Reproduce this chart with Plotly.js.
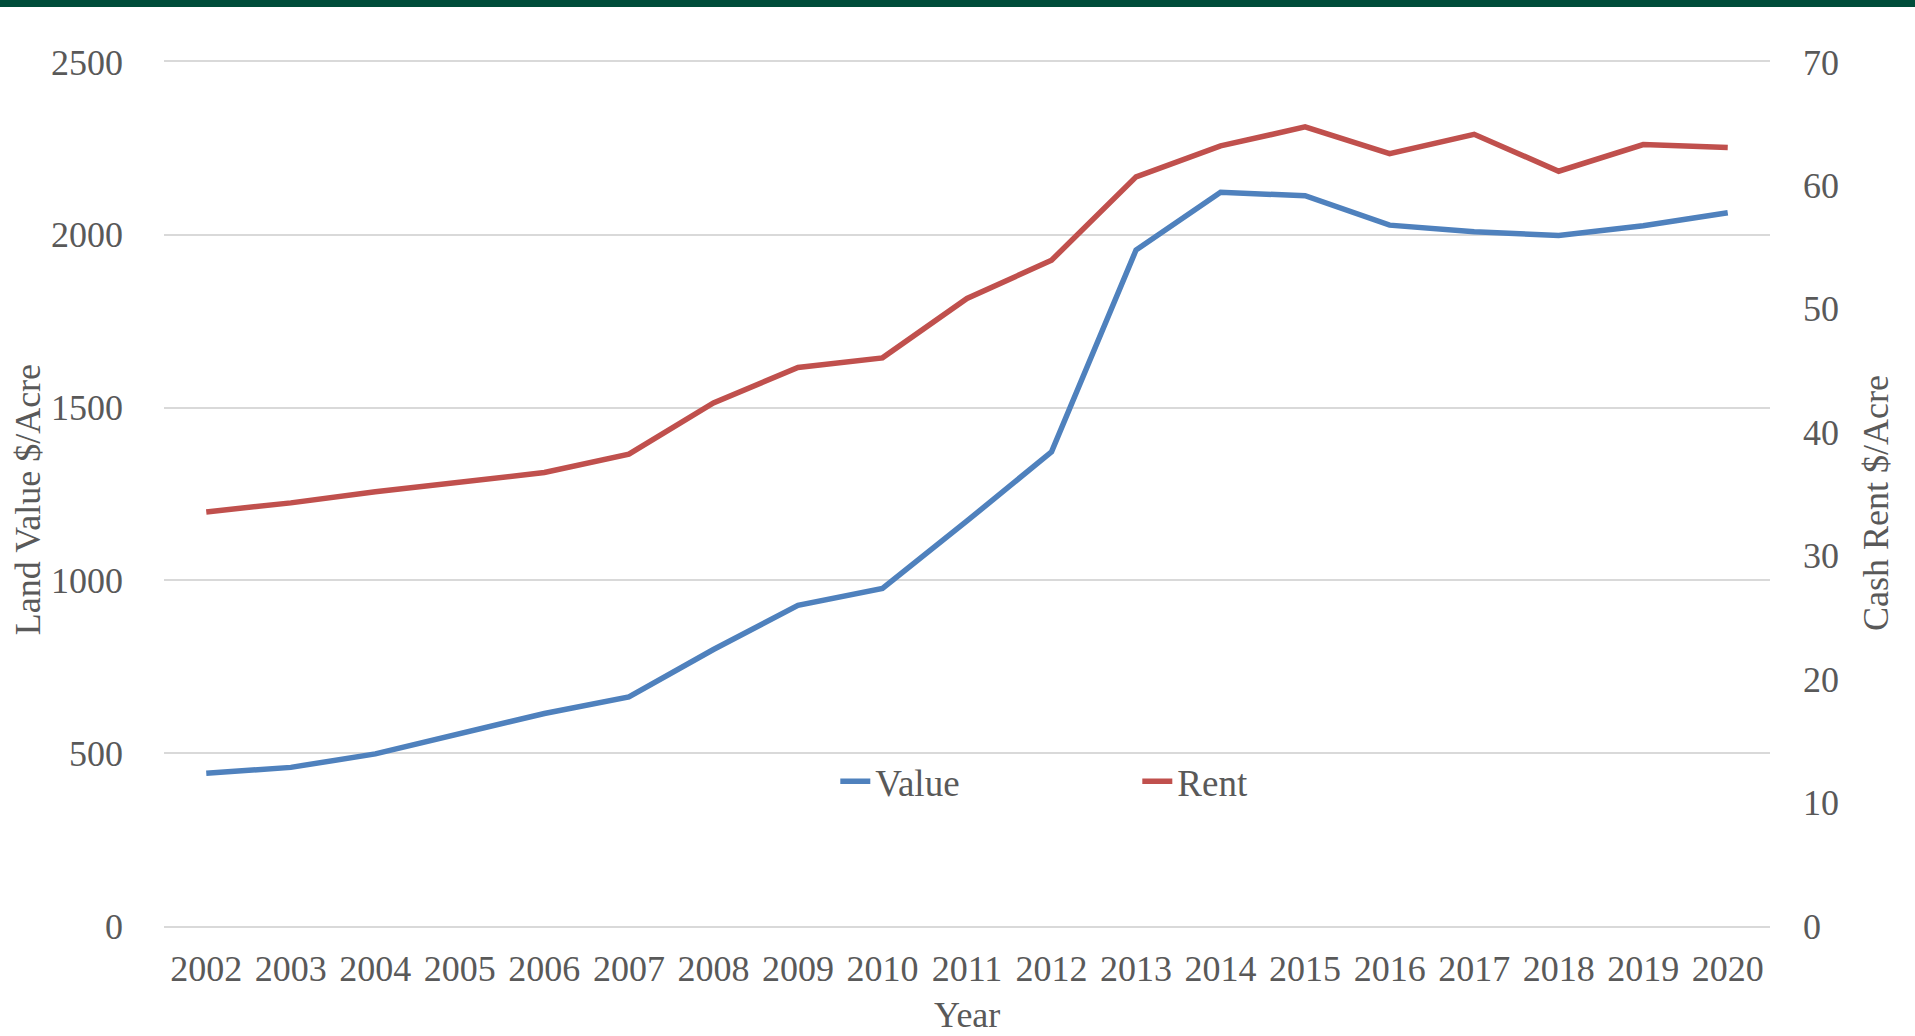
<!DOCTYPE html>
<html>
<head>
<meta charset="utf-8">
<script src="https://cdn.plot.ly/plotly-3.0.1.min.js"></script>
<style>
  html, body { margin: 0; padding: 0; background: #ffffff; overflow: hidden; }
  #topbar { position: absolute; left: 0; top: 0; width: 1915px; height: 7px; background: #004D3A; z-index: 10; }
  #chart { width: 1915px; height: 1036px; }
</style>
</head>
<body>
<div id="topbar"></div>
<div id="chart"></div>
<script>
const years = ["2002","2003","2004","2005","2006","2007","2008","2009","2010","2011",
               "2012","2013","2014","2015","2016","2017","2018","2019","2020"];
const landValue = [442, 459, 498, 555, 615, 663, 800, 928, 977, 1172,
                   1372, 1956, 2123, 2113, 2028, 2009, 1998, 2026, 2064];
const cashRent = [33.55, 34.28, 35.18, 35.99, 36.74, 38.23, 42.38, 45.25, 46.03, 50.84,
                  53.94, 60.69, 63.2, 64.74, 62.58, 64.14, 61.15, 63.31, 63.07];
const leftTicks = [0, 500, 1000, 1500, 2000, 2500];
const rightTicks = [0, 10, 20, 30, 40, 50, 60, 70];
const xTitle = 'Year';
const yTitle = 'Land Value $/Acre';
const y2Title = 'Cash Rent $/Acre';

const fontFamily = '"Liberation Serif", "Times New Roman", serif';
const textColor = '#595959';
const gridColor = '#D9D9D9';
const titleFont = { family: fontFamily, size: 36, color: textColor };

const traces = [
  {
    x: years, y: landValue, name: 'Value', type: 'scatter', mode: 'lines',
    line: { color: '#4F81BD', width: 5.5 }, yaxis: 'y'
  },
  {
    x: years, y: cashRent, name: 'Rent', type: 'scatter', mode: 'lines',
    line: { color: '#C0504D', width: 5.5 }, yaxis: 'y2'
  }
];

const layout = {
  width: 1915, height: 1036,
  margin: { l: 164, r: 145, t: 62, b: 110, pad: 0 },
  paper_bgcolor: '#ffffff', plot_bgcolor: '#ffffff',
  font: { family: fontFamily, size: 36, color: textColor },
  showlegend: true,
  legend: {
    orientation: 'h', x: 0.418, y: 0.167, xanchor: 'left', yanchor: 'middle',
    entrywidth: 257, entrywidthmode: 'pixels',
    font: { family: fontFamily, size: 37, color: textColor },
    bgcolor: 'rgba(0,0,0,0)', borderwidth: 0, tracegroupgap: 0
  },
  xaxis: {
    type: 'category', range: [-0.5, 18.5], tickangle: 0,
    showgrid: false, zeroline: false,
    showline: true, mirror: true, linecolor: gridColor, linewidth: 2,
    ticks: '', ticklabelstandoff: 10,
    tickfont: { family: fontFamily, size: 36, color: textColor }
  },
  yaxis: {
    range: [0, 2500], tickvals: leftTicks, ticktext: leftTicks.map(String),
    showgrid: true, gridcolor: gridColor, gridwidth: 2,
    zeroline: true, zerolinecolor: gridColor, zerolinewidth: 2,
    showline: false, ticks: '', ticklabelstandoff: 40,
    tickfont: { family: fontFamily, size: 36, color: textColor }
  },
  yaxis2: {
    range: [0, 70], tickvals: rightTicks, ticktext: rightTicks.map(String),
    overlaying: 'y', side: 'right',
    showgrid: false, zeroline: false, showline: false, ticks: '', ticklabelstandoff: 32,
    tickfont: { family: fontFamily, size: 36, color: textColor }
  },
  annotations: [
    { text: xTitle, xref: 'paper', yref: 'paper', x: 0.5, y: -0.1035,
      xanchor: 'center', yanchor: 'middle', showarrow: false, font: titleFont },
    { text: yTitle, xref: 'paper', yref: 'paper', x: -0.0847, y: 0.494, textangle: -90,
      xanchor: 'center', yanchor: 'middle', showarrow: false, font: titleFont },
    { text: y2Title, xref: 'paper', yref: 'paper', x: 1.066, y: 0.4896, textangle: -90,
      xanchor: 'center', yanchor: 'middle', showarrow: false, font: titleFont }
  ]
};

Plotly.newPlot('chart', traces, layout, { displayModeBar: false, staticPlot: true });
</script>
</body>
</html>
